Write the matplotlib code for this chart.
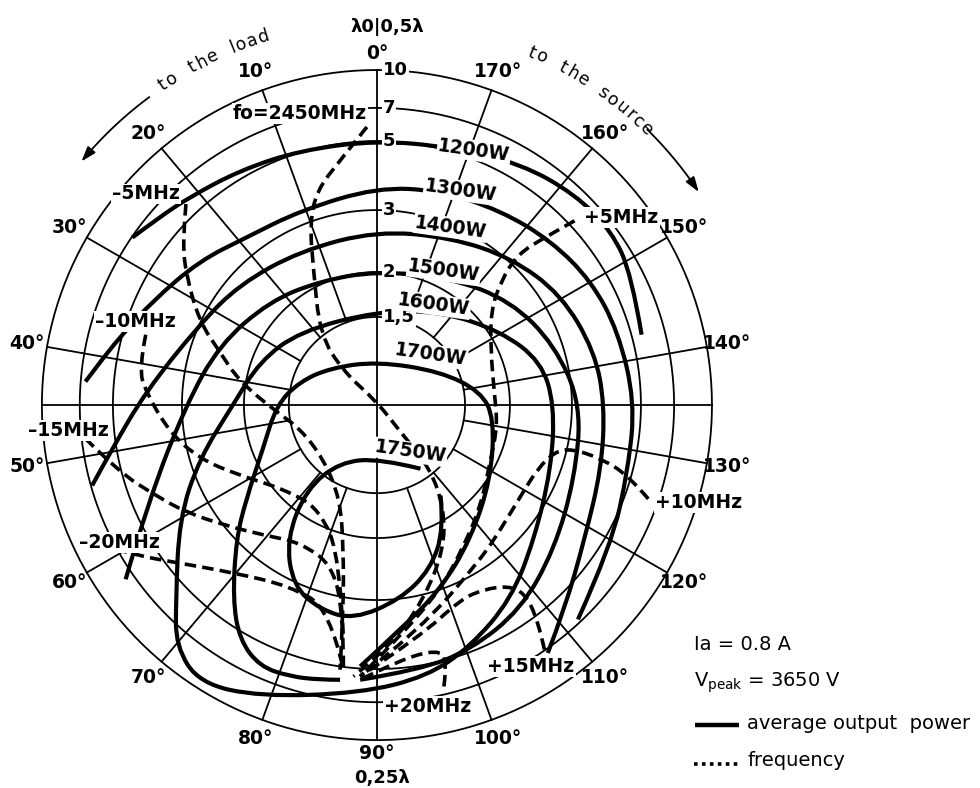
import numpy as np
import matplotlib.pyplot as plt
from matplotlib.path import Path
from matplotlib.patches import PathPatch
from matplotlib.textpath import TextPath
from matplotlib.font_manager import FontProperties

# Rieke diagram, magnetron 2450 MHz
# load plane: reflection coefficient, outer ring = 1, phase in degrees towards the load
vswr_labels = ['1,5', '2', '3', '5', '7', '10']
vswr_radius = [0.263, 0.397, 0.582, 0.788, 0.887, 1.0]
phase_deg = list(range(0, 180, 10))

# average output power contours (x, y in the load plane)
p1200 = [(-0.73, 0.50), (-0.65, 0.56), (-0.56, 0.62), (-0.41, 0.70), (-0.23, 0.76), (0.00, 0.79),
         (0.22, 0.77), (0.43, 0.72), (0.59, 0.63), (0.70, 0.52), (0.76, 0.39), (0.79, 0.21)]
p1300 = [(-0.87, 0.07), (-0.81, 0.15), (-0.76, 0.21), (-0.67, 0.31), (-0.53, 0.43), (-0.39, 0.50),
         (-0.23, 0.58), (0.00, 0.65), (0.19, 0.64), (0.37, 0.58), (0.52, 0.49), (0.64, 0.37),
         (0.72, 0.22), (0.77, 0.01), (0.75, -0.19), (0.70, -0.42), (0.60, -0.64)]
p1400 = [(-0.85, -0.24), (-0.79, -0.13), (-0.69, 0.04), (-0.53, 0.24), (-0.41, 0.36), (-0.23, 0.46),
         (0.00, 0.52), (0.22, 0.50), (0.40, 0.44), (0.55, 0.33), (0.65, 0.16), (0.68, 0.00),
         (0.67, -0.19), (0.62, -0.40), (0.56, -0.61), (0.51, -0.74)]
p1500 = [(-0.75, -0.52), (-0.68, -0.28), (-0.57, 0.00), (-0.47, 0.18), (-0.32, 0.31), (-0.17, 0.37),
         (0.00, 0.40), (0.22, 0.38), (0.40, 0.31), (0.53, 0.18), (0.61, 0.00), (0.59, -0.22),
         (0.53, -0.43), (0.43, -0.61), (0.28, -0.73), (0.13, -0.79), (-0.05, -0.82)]
p1600 = [(0.53, 0.00), (0.52, -0.19), (0.47, -0.40), (0.40, -0.58), (0.28, -0.72), (0.15, -0.81),
         (-0.05, -0.86), (-0.35, -0.87), (-0.53, -0.83), (-0.60, -0.72), (-0.60, -0.58), (-0.59, -0.34),
         (-0.53, -0.16), (-0.43, 0.00), (-0.35, 0.13), (-0.23, 0.22), (0.00, 0.28), (0.19, 0.28),
         (0.37, 0.22), (0.49, 0.13), (0.53, 0.00)]
p1700 = [(-0.11, -0.82), (-0.17, -0.82), (-0.26, -0.81), (-0.35, -0.78), (-0.41, -0.70), (-0.43, -0.58),
         (-0.42, -0.40), (-0.39, -0.28), (-0.34, -0.13), (-0.30, 0.00), (-0.23, 0.07), (-0.14, 0.11),
         (0.00, 0.13), (0.19, 0.10), (0.31, 0.04), (0.35, -0.04), (0.34, -0.22), (0.28, -0.40),
         (0.19, -0.55), (0.07, -0.67), (-0.05, -0.78)]
p1750 = [(0.13, -0.19), (0.01, -0.16), (-0.11, -0.17), (-0.21, -0.25), (-0.27, -0.40), (-0.25, -0.54),
         (-0.17, -0.61), (-0.07, -0.64), (0.07, -0.58), (0.16, -0.49), (0.20, -0.37), (0.19, -0.27)]

# frequency contours
f0 = [(-0.03, 0.83), (-0.11, 0.73), (-0.18, 0.64), (-0.20, 0.54), (-0.19, 0.41), (-0.17, 0.21),
      (-0.10, 0.10), (0.00, 0.01), (0.07, -0.08), (0.16, -0.19), (0.20, -0.31), (0.20, -0.43),
      (0.14, -0.58), (0.04, -0.72), (-0.07, -0.81)]
fm5 = [(-0.57, 0.60), (-0.58, 0.49), (-0.57, 0.39), (-0.53, 0.25), (-0.47, 0.16), (-0.41, 0.07),
       (-0.30, -0.02), (-0.23, -0.07), (-0.16, -0.16), (-0.11, -0.28), (-0.10, -0.43), (-0.10, -0.61),
       (-0.11, -0.79)]
fp5 = [(0.59, 0.55), (0.50, 0.50), (0.42, 0.45), (0.37, 0.37), (0.34, 0.28), (0.34, 0.16),
       (0.35, 0.04), (0.36, -0.06), (0.34, -0.16), (0.31, -0.30), (0.26, -0.42), (0.19, -0.55),
       (0.07, -0.69), (-0.05, -0.81)]
fm10 = [(-0.69, 0.21), (-0.71, 0.11), (-0.69, 0.04), (-0.62, -0.08), (-0.53, -0.16), (-0.41, -0.21),
        (-0.28, -0.25), (-0.17, -0.31), (-0.11, -0.46), (-0.10, -0.70)]
fm15 = [(-0.87, -0.10), (-0.77, -0.20), (-0.66, -0.27), (-0.57, -0.32), (-0.45, -0.36), (-0.33, -0.39),
        (-0.23, -0.41), (-0.13, -0.48), (-0.10, -0.64), (-0.10, -0.79)]
fm20 = [(-0.78, -0.43), (-0.71, -0.45), (-0.60, -0.47), (-0.43, -0.50), (-0.26, -0.54), (-0.14, -0.61),
        (-0.10, -0.79)]
fp10 = [(0.81, -0.28), (0.75, -0.21), (0.67, -0.16), (0.58, -0.13), (0.53, -0.14), (0.48, -0.19),
        (0.43, -0.27), (0.37, -0.37), (0.31, -0.46), (0.13, -0.67), (-0.05, -0.81)]
fp15 = [(0.50, -0.73), (0.48, -0.64), (0.44, -0.56), (0.39, -0.54), (0.32, -0.55), (0.25, -0.58),
        (0.13, -0.69), (-0.05, -0.81)]
fp20 = [(0.20, -0.84), (0.21, -0.76), (0.18, -0.73), (0.07, -0.76), (-0.05, -0.82)]

power_curves = [p1200, p1300, p1400, p1500, p1600, p1700, p1750]
freq_curves = [f0, fm5, fp5, fm10, fm15, fm20, fp10, fp15, fp20]

power_labels = {'1200W': (0.29, 0.76), '1300W': (0.25, 0.64), '1400W': (0.22, 0.53),
                '1500W': (0.20, 0.40), '1600W': (0.17, 0.30), '1700W': (0.16, 0.15),
                '1750W': (0.10, -0.14)}
freq_labels = {'fo=2450MHz': (-0.23, 0.87), '–5MHz': (-0.69, 0.63), '–10MHz': (-0.72, 0.25),
               '–15MHz': (-0.92, -0.075), '–20MHz': (-0.77, -0.41), '+5MHz': (0.73, 0.56),
               '+10MHz': (0.96, -0.29), '+15MHz': (0.46, -0.78), '+20MHz': (0.15, -0.90)}

plt.rcParams['font.family'] = 'DejaVu Sans'
fig = plt.figure(figsize=(9.8, 7.88), dpi=100)
ax = fig.add_axes([0, 0, 1, 1])
ax.set_xlim(-1.125, 1.800)
ax.set_ylim(-1.143, 1.209)
ax.set_aspect('equal')
ax.axis('off')


def smooth(pts):
    # quadratic spline through the midpoints, so the contour has no corners
    pts = np.asarray(pts, float)
    if np.allclose(pts[0], pts[-1]):
        pts = pts[:-1]
        n = len(pts)
        mids = [(pts[i] + pts[(i + 1) % n]) / 2 for i in range(n)]
        verts, codes = [mids[-1]], [Path.MOVETO]
        for i in range(n):
            verts += [pts[i], mids[i]]
            codes += [Path.CURVE3, Path.CURVE3]
        return Path(verts, codes)
    verts, codes = [pts[0]], [Path.MOVETO]
    n = len(pts)
    for i in range(1, n - 1):
        end = pts[i + 1] if i == n - 2 else (pts[i] + pts[i + 1]) / 2
        verts += [pts[i], end]
        codes += [Path.CURVE3, Path.CURVE3]
    return Path(verts, codes)


# grid: vswr circles and phase lines
t = np.linspace(0, 2 * np.pi, 400)
for r in vswr_radius:
    ax.plot(r * np.cos(t), r * np.sin(t), color='black', lw=1.3, zorder=1)
for p in phase_deg:
    a = np.radians(90 + 2 * p)
    r0 = 0.0 if p in (0, 90) else vswr_radius[0]
    ax.plot([r0 * np.cos(a), np.cos(a)], [r0 * np.sin(a), np.sin(a)], color='black', lw=1.3, zorder=1)
for p in (45, 135):
    a = np.radians(90 + 2 * p)
    ax.plot([0, np.cos(a)], [0, np.sin(a)], color='black', lw=1.3, zorder=1)

for c in power_curves:
    ax.add_patch(PathPatch(smooth(c), fill=False, ec='black', lw=3.0,
                           capstyle='butt', joinstyle='round', zorder=3))
for c in freq_curves:
    ax.add_patch(PathPatch(smooth(c), fill=False, ec='black', lw=2.6,
                           linestyle=(0, (3.2, 1.7)), capstyle='butt', zorder=2))

bold = dict(fontweight='bold', color='black')
white = dict(boxstyle='square,pad=0.05', fc='white', ec='none')

# phase labels around the rim
for p in phase_deg:
    a = np.radians(90 + 2 * p)
    rr = {0: 1.05, 90: 1.04}.get(p, 1.06)
    ax.text(rr * np.cos(a), rr * np.sin(a), f'{p}°', ha='center', va='center',
            fontsize=13.5, **bold)
ax.text(0.03, 1.128, 'λ0|0,5λ', ha='center', va='center', fontsize=13, **bold)
ax.text(0.015, -1.113, '0,25λ', ha='center', va='center', fontsize=13, **bold)

# vswr values along the 0° line
for lab, r in zip(vswr_labels, vswr_radius):
    ax.text(0.018, r, lab, ha='left', va='center', fontsize=13, bbox=white, zorder=4, **bold)

for lab, (x, y) in power_labels.items():
    ax.text(x, y, lab, ha='center', va='center', fontsize=13.5, rotation=-8,
            bbox=white, zorder=5, **bold)
for lab, (x, y) in freq_labels.items():
    ax.text(x, y, lab, ha='center', va='center', fontsize=13.5, bbox=white, zorder=5, **bold)


def arc_text(s, start, radius, size):
    # letters run clockwise along a circle, start angle measured clockwise from the top
    fp = FontProperties(family='DejaVu Sans', size=size)
    p0 = ax.transData.transform((0, 0))
    p1 = ax.transData.transform((1, 0))
    unit = (p1[0] - p0[0]) * 72 / fig.dpi  # points per data unit
    ang = start
    for ch in s:
        w = size * 0.5 if ch == ' ' else TextPath((0, 0), ch, prop=fp).get_extents().width
        w += size * 0.22
        da = np.degrees(w / unit / radius)
        mid = np.radians(ang + da / 2)
        ax.text(radius * np.sin(mid), radius * np.cos(mid), ch, fontproperties=fp,
                rotation=-np.degrees(mid), rotation_mode='anchor', ha='center', va='center')
        ang += da


def arc_arrow(a_start, a_end, radius):
    a = np.radians(np.linspace(a_start, a_end, 60))
    x, y = radius * np.sin(a), radius * np.cos(a)
    ax.plot(x[:-4], y[:-4], color='black', lw=1.3)
    ax.annotate('', xy=(x[-1], y[-1]), xytext=(x[-8], y[-8]),
                arrowprops=dict(arrowstyle='-|>,head_length=0.9,head_width=0.3',
                                color='black', lw=1.3, shrinkA=0, shrinkB=0))


arc_text('to the load', -34.5, 1.15, 12.5)
arc_text('to the source', 23, 1.15, 12.5)
arc_arrow(-36.5, -50.5, 1.143)
arc_arrow(44.5, 56.5, 1.152)

# operating conditions and key
ax.text(0.945, -0.715, 'Ia = 0.8 A', fontsize=14, va='center')
ax.text(0.945, -0.83, r'V$_{\rm peak}$ = 3650 V', fontsize=14, va='center')
ax.plot([0.95, 1.08], [-0.956, -0.956], color='black', lw=3.2, solid_capstyle='butt')
ax.text(1.105, -0.95, 'average output  power', fontsize=14, va='center')
ax.plot([0.945, 1.08], [-1.07, -1.07], color='black', lw=2.6, linestyle=(0, (1, 1.2)))
ax.text(1.105, -1.06, 'frequency', fontsize=14, va='center')

fig.savefig('out.png', dpi=100, facecolor='white')
